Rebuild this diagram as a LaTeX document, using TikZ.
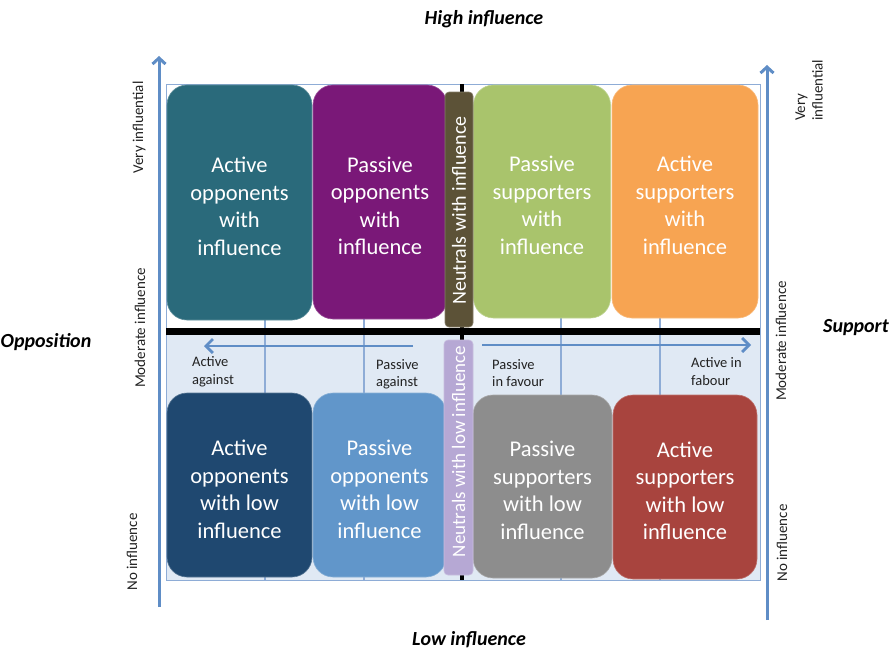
\documentclass[tikz,border=0pt]{standalone}
\usepackage{fontspec}
\setmainfont{Carlito}
\usetikzlibrary{arrows.meta}
\definecolor{cteal}{HTML}{2A6A7B}
\definecolor{cpurple}{HTML}{7A1878}
\definecolor{colive}{HTML}{5C5237}
\definecolor{cgreen}{HTML}{A9C46C}
\definecolor{corange}{HTML}{F7A452}
\definecolor{cnavy}{HTML}{1F4870}
\definecolor{clblue}{HTML}{6196CA}
\definecolor{clav}{HTML}{B6A8D4}
\definecolor{cgrey}{HTML}{8D8D8D}
\definecolor{cred}{HTML}{A8443E}
\definecolor{axblue}{HTML}{5F8DC6}
\definecolor{gridblue}{HTML}{8EACD6}
\definecolor{lowbg}{HTML}{E0E9F4}
\definecolor{labgray}{HTML}{222222}
\tikzset{
 box/.style={fill=#1, draw=#1!75!white, line width=0.6pt, rounded corners=20pt, inner sep=0pt},
 boxtext/.style={text=white, align=center, font=\fontsize{22.5}{27.5}\selectfont, inner sep=0pt},
 ntr/.style={fill=#1, draw=#1!75!white, line width=0.6pt, rounded corners=4pt, rotate=90, inner sep=0pt},
 ntrtext/.style={text=white, rotate=90, inner sep=0pt},
 axlab/.style={text=labgray, font=\fontsize{15}{17.5}\selectfont, rotate=90, inner sep=0pt, align=left},
 arlab/.style={text=labgray, font=\fontsize{14.5}{17.5}\selectfont, align=left, inner sep=0pt, anchor=base west},
 ttl/.style={text=black, font=\fontsize{20}{24}\selectfont\bfseries\itshape, inner sep=0pt},
 axisarrow/.style={draw=axblue, line width=3pt, -{Straight Barb[length=6pt,width=13pt]}},
 harrow/.style={draw=axblue, line width=2.8pt, -{Straight Barb[length=7pt,width=14pt]}},
 gridline/.style={draw=gridblue, line width=1.2pt},
}
\begin{document}
\begin{tikzpicture}[x=1pt,y=-1pt]
\useasboundingbox (0,0) rectangle (896,661);
% background panels
\fill[white] (166,84) rectangle (760,328);
\fill[lowbg] (166,328) rectangle (760,580);
\draw[gridblue, line width=1pt] (166,84) rectangle (760,580);
% grid lines
\coordinate (g1t) at (265,84); \coordinate (g1b) at (265,580);
\coordinate (g2t) at (364,84); \coordinate (g2b) at (364,580);
\coordinate (g3t) at (561,84); \coordinate (g3b) at (561,580);
\coordinate (g4t) at (660,84); \coordinate (g4b) at (660,580);
\draw[gridline] (g1t) -- (g1b);
\draw[gridline] (g2t) -- (g2b);
\draw[gridline] (g3t) -- (g3b);
\draw[gridline] (g4t) -- (g4b);
% black axes
\coordinate (vt) at (462,84); \coordinate (vb) at (462,580);
\draw[black, line width=4.5pt] (vt) -- (vb);
\coordinate (hl) at (166,331.5); \coordinate (hr) at (760,331.5);
\draw[black, line width=7pt] (hl) -- (hr);
% horizontal arrows
\coordinate (la0) at (413,346); \coordinate (la1) at (204,346);
\coordinate (ra0) at (482,345); \coordinate (ra1) at (751,345);
\draw[harrow] (la0) -- (la1);
\draw[harrow] (ra0) -- (ra1);
% top boxes
\node[box=cteal, minimum width=145pt, minimum height=235pt] (b1) at (239.5,202.5) {};
\node[box=cpurple, minimum width=134pt, minimum height=234pt] (b2) at (380,202) {};
\node[box=cgreen, minimum width=137pt, minimum height=233pt] (b3) at (542,201.5) {};
\node[box=corange, minimum width=146pt, minimum height=233pt] (b4) at (685,201.5) {};
\node[boxtext] (b1t) at ([yshift=-4pt]b1.center) {Active\\opponents\\with\\influence};
\node[boxtext] (b2t) at ([yshift=-4pt]b2.center) {Passive\\opponents\\with\\influence};
\node[boxtext] (b3t) at ([yshift=-4pt]b3.center) {Passive\\supporters\\with\\influence};
\node[boxtext] (b4t) at ([yshift=-4pt]b4.center) {Active\\supporters\\with\\influence};
% bottom boxes
\node[box=cnavy, minimum width=145pt, minimum height=184pt] (b5) at (239.5,485) {};
\node[box=clblue, minimum width=133pt, minimum height=184pt] (b6) at (379.5,485) {};
\node[box=cgrey, minimum width=139pt, minimum height=183pt] (b7) at (542.5,486.5) {};
\node[box=cred, minimum width=144pt, minimum height=184pt] (b8) at (685,487) {};
\node[boxtext] (b5t) at ([yshift=-4.5pt]b5.center) {Active\\opponents\\with low\\influence};
\node[boxtext] (b6t) at ([yshift=-4.5pt]b6.center) {Passive\\opponents\\with low\\influence};
\node[boxtext] (b7t) at ([yshift=-4pt]b7.center) {Passive\\supporters\\with low\\influence};
\node[boxtext] (b8t) at ([yshift=-4pt]b8.center) {Active\\supporters\\with low\\influence};
% neutral bars
\node[ntr=colive, minimum width=235pt, minimum height=28pt] (n1) at (459,209.5) {};
\node[ntr=clav, minimum width=235pt, minimum height=29pt] (n2) at (458.5,457.5) {};
\node[ntrtext, font=\fontsize{20}{24}\selectfont] (n1t) at ([yshift=-1pt]n1.center) {Neutrals with influence};
\node[ntrtext, font=\fontsize{19}{23}\selectfont] (n2t) at ([yshift=6pt]n2.center) {Neutrals with low influence};
% vertical axis arrows
\coordinate (lv0) at (159,607); \coordinate (lv1) at (159,56);
\coordinate (rv0) at (767,620); \coordinate (rv1) at (767,65);
\draw[axisarrow] (lv0) -- (lv1);
\draw[axisarrow] (rv0) -- (rv1);
% arrow labels
\node[arlab] (t1) at (192,384) {Active\\against};
\node[arlab] (t2) at (376,386.5) {Passive\\against};
\node[arlab] (t3) at (492,386.5) {Passive\\in favour};
\node[arlab] (t4) at (691,385) {Active in\\fabour};
% axis side labels
\node[axlab] (l1) at (139,127.5) {Very influential};
\node[axlab] (l2) at (140,328) {Moderate influence};
\node[axlab] (l3) at (132,552) {No influence};
\node[axlab, anchor=west] (r1) at (809,121) {Very\\influential};
\node[axlab] (r2) at (781,341) {Moderate influence};
\node[axlab] (r3) at (782,543) {No influence};
% titles
\node[ttl, anchor=base] (hi) at (484,25) {High influence};
\node[ttl, anchor=base] (lo) at (469,645.5) {Low influence};
\node[ttl, anchor=base west] (op) at (0.5,347.5) {Opposition};
\node[ttl, anchor=base west] (su) at (823,332.5) {Support};
\end{tikzpicture}
\end{document}
